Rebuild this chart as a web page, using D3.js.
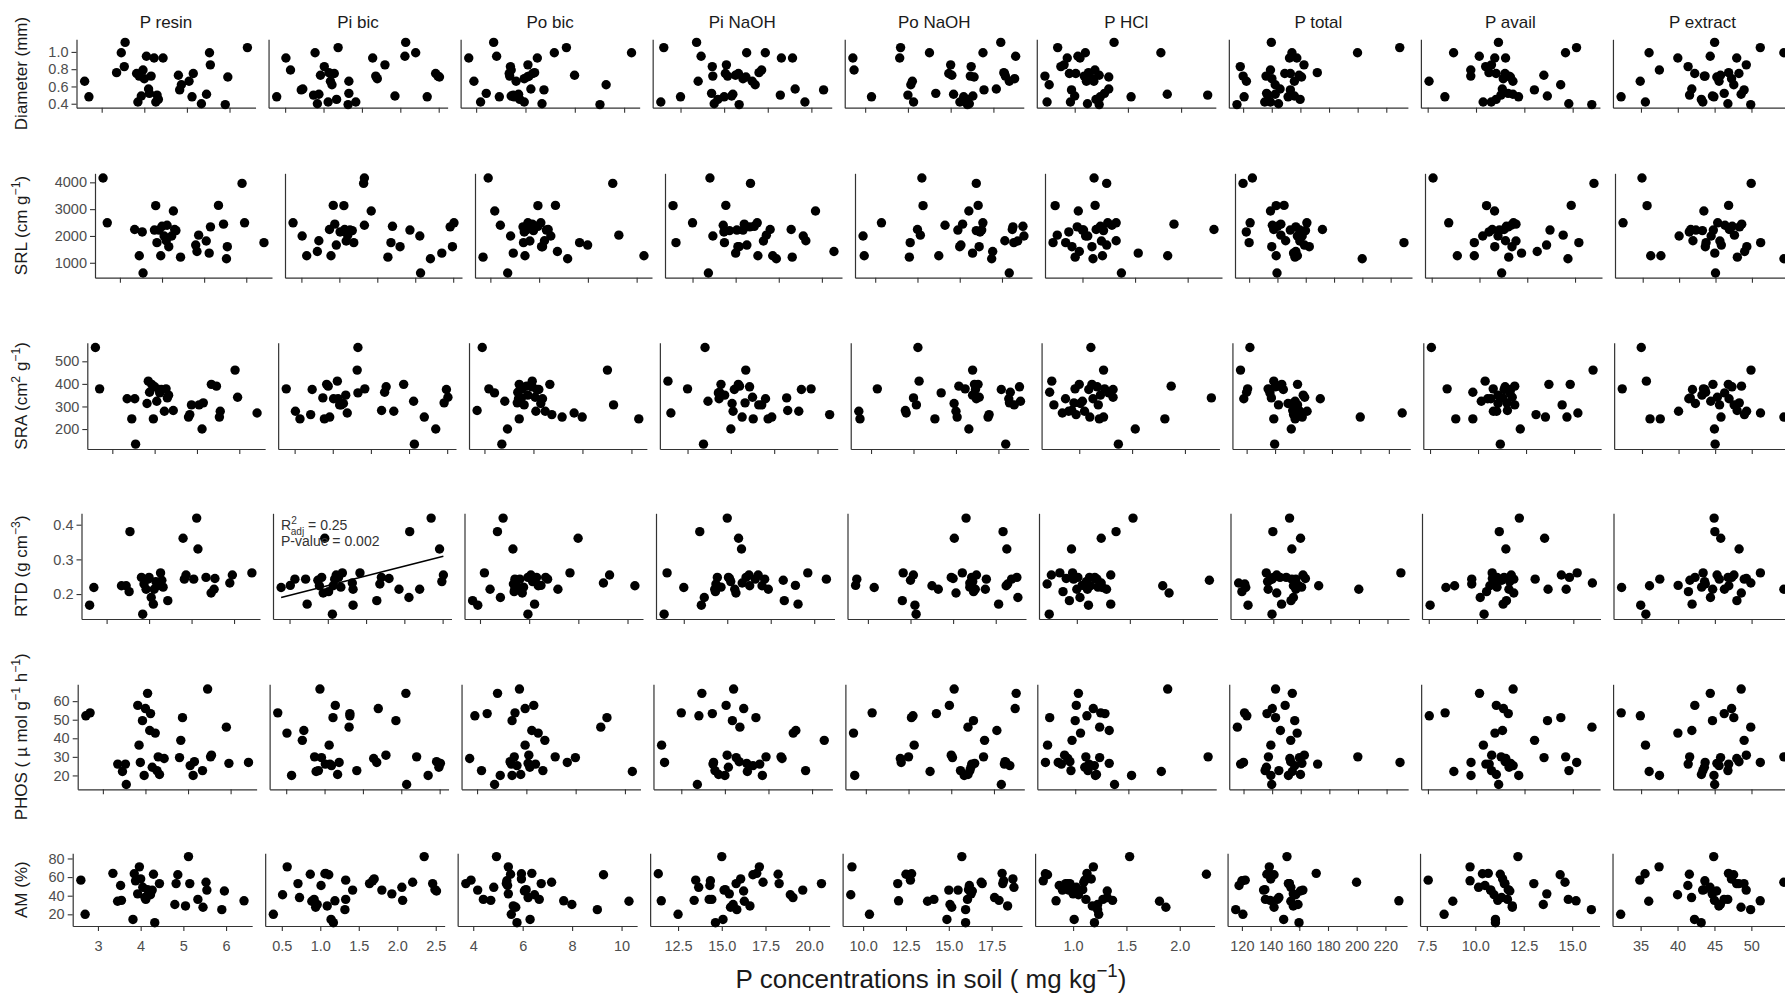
<!DOCTYPE html>
<html>
<head>
<meta charset="utf-8">
<script src="https://cdn.jsdelivr.net/npm/d3@7"></script>
<style>
  body { margin: 0; background: #fff; }
  text { font-family: "Liberation Sans", Arial, sans-serif; }
</style>
</head>
<body>
<script>
// soil P fractions, one value per sample (same 34 samples in every panel)
const pResin   = [2.60,2.70,3.35,3.46,3.53,3.55,3.82,3.85,3.88,3.93,3.97,4.00,4.05,4.10,4.12,4.16,4.23,4.27,4.30,4.33,4.44,4.80,4.83,4.87,5.05,5.12,5.15,5.34,5.46,5.53,5.55,5.90,5.96,6.42];
const piBic    = [1.33,0.39,1.07,0.89,1.01,2.07,1.14,1.06,1.68,1.93,0.57,1.70,2.06,0.73,1.33,2.49,0.51,1.42,0.87,1.17,1.64,0.96,0.71,1.11,1.09,2.35,2.46,0.92,0.94,2.20,1.80,1.32,2.51,1.19];
const poBic    = [3.91,5.54,6.37,10.30,5.39,4.71,6.30,5.95,5.36,5.42,5.42,5.95,4.83,6.22,4.41,6.14,6.48,4.18,5.51,5.77,3.70,7.99,6.75,9.27,5.62,4.94,5.34,6.67,5.72,7.17,6.10,9.02,6.07,7.66];
const piNaOH   = [13.51,12.5,17.0,16.29,14.32,13.42,15.07,11.37,14.35,15.43,17.15,16.08,13.68,19.07,14.28,15.2,18.92,19.63,18.22,14.64,18.28,15.65,20.70,16.78,16.61,15.0,15.82,14.43,15.50,17.36,15.13,15.86,16.25,11.54];
const poNaOH   = [12.76,10.37,18.11,13.76,16.2,17.93,14.89,12.83,18.2,16.3,9.35,18.74,18.80,17.67,14.13,16.15,9.28,15.54,12.5,15.98,12.02,15.07,16.95,12.67,18.43,15.76,18.15,16.09,15.17,16.89,15.0,15.98,16.37,12.07];
const pHCl     = [1.11,1.24,1.13,1.81,0.87,1.37,1.01,0.74,0.72,1.0,1.19,1.17,1.03,1.32,1.28,1.09,1.05,0.96,2.25,1.20,0.93,1.23,0.97,0.76,1.18,1.53,0.95,1.12,1.87,1.10,0.90,1.23,1.32,0.84];
const pTotal   = [122.3,120.7,171.8,154.1,118.0,139.7,149.1,139.1,120.0,155.8,139.1,140.1,154.1,145.8,136.4,136,157.5,135.1,137.4,159.8,152.4,159.1,153,142.4,155.8,151.4,153,144.7,142.4,199.9,162.5,115.7,160.8,229.4];
const pAvail   = [7.57,8.39,10.67,8.84,10.50,11.16,11.04,10.37,9.73,13.69,9.73,11.41,10.17,11.36,11.66,11.7,10.97,10.79,11.29,11.04,11.53,13.51,13.02,14.38,11.91,12.20,11.5,14.80,11.91,14.63,10.8,15.99,11.78,15.20];
const pExtract = [34.9,32.3,46.9,36.1,41.4,45.0,42.3,35.6,43.7,44.7,37.5,47.3,44.4,41.9,46.3,43.6,40.0,43.4,41.6,43.2,48.0,45.8,49.0,47.6,45.6,44.9,48.3,46.8,48.6,54.4,49.3,49.9,45.3,51.2];

// root traits for the same samples
const diameter = [0.66,0.48,0.76,0.99,0.83,1.11,0.75,0.42,0.72,0.49,0.79,0.69,0.95,0.57,0.52,0.72,0.93,0.42,0.50,0.45,0.93,0.73,0.56,0.62,0.66,0.48,0.75,0.40,0.51,0.99,0.85,0.39,0.71,1.05];
const srl      = [4160,2490,2240,1260,2150,620,2220,3130,1750,2220,1260,2360,2000,1820,2400,1600,2000,2930,2240,2200,1210,1660,1420,2030,1810,1360,2340,3140,2440,1150,1600,3960,2490,1750];
const sra      = [561,378,334,245,334,133,313,412,363,398,245,387,323,375,360,375,279,378,338,350,282,253,264,307,307,200,316,398,390,253,279,461,341,271];
const rtd      = [0.168,0.219,0.224,0.224,0.207,0.380,0.248,0.142,0.229,0.214,0.243,0.248,0.190,0.171,0.214,0.236,0.225,0.261,0.240,0.220,0.181,0.361,0.243,0.255,0.243,0.419,0.330,0.248,0.203,0.214,0.245,0.232,0.255,0.261];
const phos     = [52.1,53.7,26.1,22.1,26.1,15.1,57.7,36.3,27.0,49.5,20.0,56.0,64.2,44.2,53.3,24.4,42.8,22.6,30.0,20.5,29.1,29.6,38.9,51.1,25.3,20.0,27.4,22.6,66.5,30.0,30.9,46.0,26.5,27.0];
const am       = [56.7,20,64,34,51,35,14.5,63.6,56,42,71,58,49,38,36,46.5,41,46,63,11,53,30.5,53,62.5,29,82,53,36,27.6,54.5,46,25,45,34.5];

// column (x) variables and their tick marks
const colNames = ["P resin","Pi bic","Po bic","Pi NaOH","Po NaOH","P HCl","P total","P avail","P extract"];
const colValues = [pResin, piBic, poBic, piNaOH, poNaOH, pHCl, pTotal, pAvail, pExtract];
const colTicks = [[3,4,5,6],[0.5,1,1.5,2,2.5],[4,6,8,10],[12.5,15,17.5,20],[10,12.5,15,17.5],[1,1.5,2],[120,140,160,180,200,220],[7.5,10,12.5,15],[35,40,45,50]];
const colFormat = ["d",".1f","d",".1f",".1f",".1f","d",".1f","d"];

// row (y) variables
const rowValues = [diameter, srl, sra, rtd, phos, am];
const rowTicks = [[0.4,0.6,0.8,1.0],[1000,2000,3000,4000],[200,300,400,500],[0.2,0.3,0.4],[20,30,40,50,60],[20,40,60,80]];
const rowFormat = [".1f","d","d",".1f","d","d"];
const rowLabels = [
  [{t:"Diameter (mm)"}],
  [{t:"SRL (cm g"},{t:"\u22121",sup:true},{t:")"}],
  [{t:"SRA (cm"},{t:"2",sup:true},{t:" g"},{t:"\u22121",sup:true},{t:")"}],
  [{t:"RTD (g cm"},{t:"\u22123",sup:true},{t:")"}],
  [{t:"PHOS ( \u00b5 mol g"},{t:"\u22121",sup:true},{t:"  h"},{t:"\u22121",sup:true},{t:")"}],
  [{t:"AM (%)"}]
];

// fitted line RTD ~ Pi bic
const fitRow = 3, fitCol = 1;
const fitCoef = [0.168, 0.0561];   // intercept, slope
const fitStats = ["0.25", "0.002"];

// layout (panel boxes per row)
const W = 1785, H = 998;
const rowLeft   = [76.5, 95, 87.3, 81.5, 77.7, 72.7];
const rowTop    = [39.3, 173.3, 342.7, 513.3, 684.3, 853.3];
const rowBottom = [107.7, 277.7, 449, 619, 789.3, 926];
const gap = 13;

const svg = d3.select("body").append("svg")
  .attr("width", W).attr("height", H);

function pad(ext) {
  const r = ext[1] - ext[0];
  return [ext[0] - r * 0.05, ext[1] + r * 0.05];
}

function rich(sel, parts, fs) {
  let shift = 0;
  parts.forEach(p => {
    const target = p.sup ? -0.42 * fs : (p.sub ? 0.3 * fs : 0);
    const ts = sel.append("tspan")
      .attr("dy", target - shift)
      .attr("font-size", (p.sup || p.sub) ? fs * 0.72 : fs)
      .text(p.t);
    if (p.dx) ts.attr("dx", p.dx);
    shift = target;
  });
}

const xDomains = colValues.map(v => pad(d3.extent(v)));

rowValues.forEach((yv, r) => {
  const pitch = (1805 - rowLeft[r]) / 9;
  const pw = pitch - gap;
  const y = d3.scaleLinear().domain(pad(d3.extent(yv))).range([rowBottom[r], rowTop[r]]);
  const last = r === rowValues.length - 1;

  // y title
  const cy = (rowTop[r] + rowBottom[r]) / 2;
  const yt = svg.append("text")
    .attr("transform", `translate(27,${cy}) rotate(-90)`)
    .attr("text-anchor", "middle")
    .attr("dy", "0.35em")
    .attr("fill", "#1a1a1a");
  rich(yt, rowLabels[r], 17);

  colValues.forEach((xv, c) => {
    const x0 = rowLeft[r] + c * pitch;
    const x = d3.scaleLinear().domain(xDomains[c]).range([x0, x0 + pw]);
    const g = svg.append("g");

    // x axis
    const xa = d3.axisBottom(x).tickValues(colTicks[c]).tickSize(5).tickSizeOuter(0)
      .tickPadding(10)
      .tickFormat(last ? d3.format(colFormat[c]) : "");
    const gx = g.append("g").attr("transform", `translate(0,${rowBottom[r]})`).call(xa);
    gx.select(".domain").attr("stroke", "#333").attr("stroke-width", 1.2);
    gx.selectAll(".tick line").attr("stroke", "#333").attr("stroke-width", 1.1);
    gx.selectAll(".tick text").attr("font-size", 14.5).attr("fill", "#4d4d4d")
      .attr("font-family", "Liberation Sans, Arial, sans-serif");

    // y axis
    const ya = d3.axisLeft(y).tickSize(5).tickSizeOuter(0).tickPadding(3)
      .tickValues(c === 0 ? rowTicks[r] : [])
      .tickFormat(d3.format(rowFormat[r]));
    const gy = g.append("g").attr("transform", `translate(${x0},0)`).call(ya);
    gy.select(".domain").attr("stroke", "#333").attr("stroke-width", 1.2);
    gy.selectAll(".tick line").attr("stroke", "#333").attr("stroke-width", 1.1);
    gy.selectAll(".tick text").attr("font-size", 14.5).attr("fill", "#4d4d4d")
      .attr("font-family", "Liberation Sans, Arial, sans-serif");

    // points
    g.append("g").selectAll("circle")
      .data(d3.range(xv.length))
      .join("circle")
      .attr("cx", i => x(xv[i]))
      .attr("cy", i => y(yv[i]))
      .attr("r", 4.7)
      .attr("fill", "#000");

    // column titles on first row
    if (r === 0) {
      svg.append("text")
        .attr("x", x0 + pw / 2).attr("y", 28)
        .attr("text-anchor", "middle")
        .attr("font-size", 17).attr("fill", "#1a1a1a")
        .text(colNames[c]);
    }

    // regression line + stats
    if (r === fitRow && c === fitCol) {
      const ex = d3.extent(xv);
      g.append("line")
        .attr("x1", x(ex[0])).attr("y1", y(fitCoef[0] + fitCoef[1] * ex[0]))
        .attr("x2", x(ex[1])).attr("y2", y(fitCoef[0] + fitCoef[1] * ex[1]))
        .attr("stroke", "#000").attr("stroke-width", 1.6);
      const t1 = g.append("text").attr("x", x0 + 8).attr("y", rowTop[r] + 17)
        .attr("fill", "#333");
      rich(t1, [{t:"R"},{t:"2",sup:true},{t:"adj",sub:true,dx:-6},{t:" = " + fitStats[0]}], 14);
      g.append("text").attr("x", x0 + 8).attr("y", rowTop[r] + 33)
        .attr("font-size", 14).attr("fill", "#333")
        .text("P-value = " + fitStats[1]);
    }
  });
});

// x title
const xt = svg.append("text")
  .attr("x", 931).attr("y", 988)
  .attr("text-anchor", "middle")
  .attr("fill", "#1a1a1a");
rich(xt, [{t:"P concentrations in soil ( mg kg"},{t:"\u22121",sup:true},{t:")"}], 26);
</script>
</body>
</html>
